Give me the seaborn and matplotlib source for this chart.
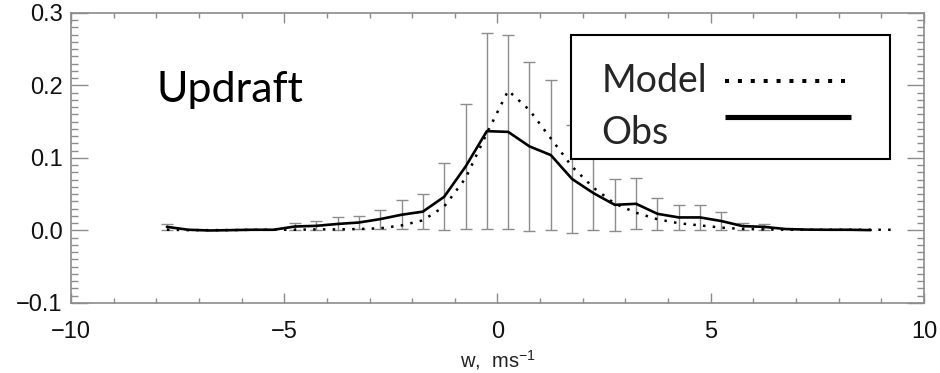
import numpy as np
import pandas as pd
import matplotlib
matplotlib.use("Agg")
import matplotlib.pyplot as plt
import seaborn as sns
from matplotlib.ticker import MultipleLocator
from matplotlib.lines import Line2D
from matplotlib.offsetbox import HPacker, DrawingArea

# ---- data ----
w_bins = [-7.75, -7.25, -6.75, -6.25, -5.75, -5.25, -4.75, -4.25, -3.75, -3.25,
          -2.75, -2.25, -1.75, -1.25, -0.75, -0.25, 0.25, 0.75, 1.25, 1.75,
          2.25, 2.75, 3.25, 3.75, 4.25, 4.75, 5.25, 5.75, 6.25, 6.75,
          7.25, 7.75, 8.25, 8.75, 9.25]
obs = [0.005, 0.001, 0.0, 0.0005, 0.001, 0.001, 0.0055, 0.0064, 0.009, 0.011,
       0.0157, 0.0217, 0.026, 0.0465, 0.088, 0.137, 0.136, 0.116, 0.104, 0.071,
       0.0515, 0.0354, 0.0368, 0.023, 0.018, 0.018, 0.013, 0.006, 0.005, 0.002,
       0.0012, 0.001, 0.001, 0.0005, np.nan]
obs_err = [0.004, np.nan, np.nan, np.nan, np.nan, np.nan, 0.0055, 0.006, 0.009, 0.0085,
           0.013, 0.0197, 0.0246, 0.046, 0.086, 0.135, 0.134, 0.117, 0.103, 0.074,
           0.0515, 0.0355, 0.035, 0.0217, 0.0174, 0.017, 0.012, 0.005, 0.004, np.nan,
           np.nan, np.nan, np.nan, np.nan, np.nan]
model = [0.001, 0.0005, 0.0005, 0.0005, 0.001, 0.001, 0.001, 0.0015, 0.0015, 0.002,
         0.003, 0.007, 0.014, 0.033, 0.072, 0.134, 0.193, 0.166, 0.127, 0.088,
         0.059, 0.037, 0.0245, 0.0155, 0.010, 0.007, 0.004, 0.002, 0.0015, 0.001,
         0.001, 0.001, 0.001, 0.001, 0.001]
series_labels = ["Model", "Obs"]
panel_label = "Updraft"
x_label = "w,  ms$^{-1}$"

df = pd.DataFrame({"w": w_bins, "obs": obs, "err": obs_err, "model": model})

# ---- style ----
sns.set_theme(style="ticks")
plt.rcParams["font.family"] = ["Liberation Sans", "DejaVu Sans"]
plt.rcParams["mathtext.default"] = "regular"
plt.rcParams["axes.unicode_minus"] = True

gray = "#8c8c8c"
fig = plt.figure(figsize=(9.4, 3.73), dpi=100)
ax = fig.add_axes([0.0755, 0.1877, 0.9075, 0.7775])

# error bars (std), drawn first
eb = df.dropna(subset=["err", "obs"])
ax.errorbar(eb["w"], eb["obs"], yerr=eb["err"], fmt="none", ecolor=gray,
            elinewidth=1.0, capsize=4.5, capthick=1.0, zorder=2)

sns.lineplot(data=df, x="w", y="model", ax=ax, color="black", lw=1.8,
             linestyle=(0, (1, 2.9)), errorbar=None, zorder=3)
sns.lineplot(data=df, x="w", y="obs", ax=ax, color="black", lw=1.9,
             errorbar=None, zorder=4)

ax.set_xlim(-10, 10)
ax.set_ylim(-0.1, 0.3)
ax.xaxis.set_major_locator(MultipleLocator(5))
ax.xaxis.set_minor_locator(MultipleLocator(1))
ax.yaxis.set_major_locator(MultipleLocator(0.1))
ax.yaxis.set_minor_locator(MultipleLocator(0.01))

for s in ax.spines.values():
    s.set_color(gray)
    s.set_linewidth(1.2)

ax.tick_params(axis="both", which="both", direction="in", top=True, right=True,
               color=gray, width=1.0, labelcolor="#111111", labelsize=17)
ax.tick_params(axis="x", which="major", length=7, pad=13)
ax.tick_params(axis="x", which="minor", length=3.5)
ax.tick_params(axis="y", which="major", length=12.5, pad=6)
ax.tick_params(axis="y", which="minor", length=5)

ax.set_xlabel(x_label, fontsize=14.5, color="#222222", labelpad=4)
ax.set_ylabel("")

ax.text(0.1005, 0.694, panel_label, transform=ax.transAxes, fontsize=31,
        family="Lato", va="baseline", ha="left", color="black")

# legend: text left, sample line right
fs = 27
h_model = Line2D([], [], color="black", lw=2.9, linestyle=(0, (1.0, 2.2)),
                 dash_capstyle="butt")
h_obs = Line2D([], [], color="black", lw=3.7, solid_capstyle="butt")
leg = ax.legend([h_model, h_obs], series_labels, loc="upper left",
                bbox_to_anchor=(0.5864, 0.9241), borderaxespad=0,
                markerfirst=False, handlelength=3.38, handletextpad=0.5,
                labelspacing=0.43, borderpad=0.2, fancybox=False,
                framealpha=1, facecolor="white", edgecolor="black",
                prop={"family": "Lato", "size": fs})
leg.get_frame().set_linewidth(1.5)
leg.set_zorder(10)

column = leg._legend_handle_box.get_children()[0]
rows = column.get_children()
for row in rows:
    t, h = row.get_children()
    left = HPacker(children=[DrawingArea(16.5, 0), t], pad=0, sep=0, align="baseline")
    right = HPacker(children=[h, DrawingArea(22.3, 0)], pad=0, sep=0, align="baseline")
    row._children = [left, right]
    row.width = 303.7
    row.mode = "expand"
column._children = [DrawingArea(0, 3.4)] + list(rows)

# sample lines: Model sits low in its row, Obs sits near the cap height
leg_lines = leg.get_lines()
leg_lines[0].set_ydata(np.asarray(leg_lines[0].get_ydata()) - 1.0)
leg_lines[1].set_ydata(np.asarray(leg_lines[1].get_ydata()) + 10.0)

fig.savefig("out.png", dpi=100)
